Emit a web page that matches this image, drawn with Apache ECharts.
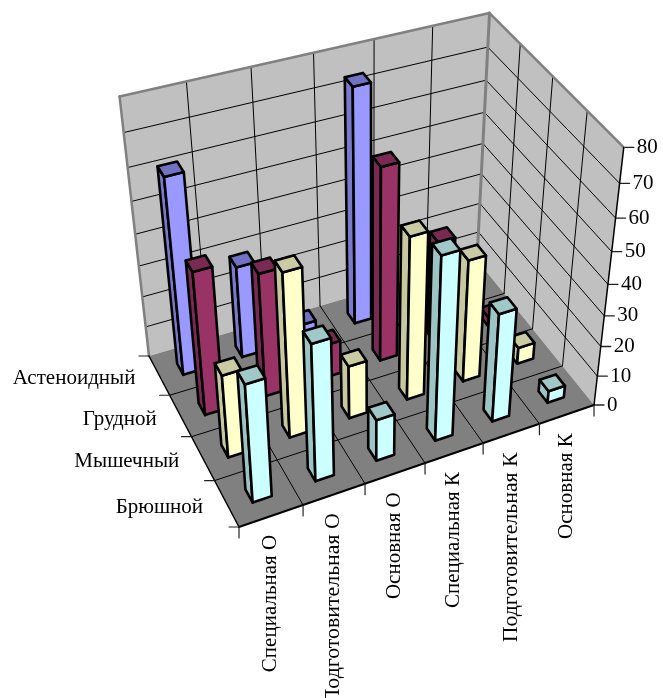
<!DOCTYPE html>
<html>
<head>
<meta charset="utf-8">
<style>html,body{margin:0;padding:0;background:#fff}#chart{width:663px;height:698px}</style>
<script src="https://cdn.jsdelivr.net/npm/echarts@6/dist/echarts.min.js"></script>
</head>
<body>
<div id="chart"></div>
<script>
// Group categories along the front edge of the floor
const categories = ['Специальная О', 'Подготовительная О', 'Основная О', 'Специальная К', 'Подготовительная К', 'Основная К'];
// Body types, listed from the back row to the front row
const rows = ['Астеноидный', 'Грудной', 'Мышечный', 'Брюшной'];
const valueTicks = [0, 10, 20, 30, 40, 50, 60, 70, 80];

const asthenic = [62.5, 30, 5, 75, 5, 2];
const thoracic = [46, 40, 11, 62, 34, 3];
const muscular = [27, 52.5, 17.5, 52.5, 40, 5.5];
const abdominal = [38, 44, 13.7, 58.7, 35.5, 4];
const rowValues = [asthenic, thoracic, muscular, abdominal];

// Face colours per row: front, side, top
const rowColors = [
  ['#9999ff', '#7a7acc', '#7272c4'],
  ['#993366', '#7a2952', '#7a2952'],
  ['#ffffcc', '#c8c8a0', '#cbcba3'],
  ['#ccffff', '#9cc4c4', '#a0c8c8']
];

const VALUE_MAX = 80;
const BAR_W = 0.30, BAR_D = 0.29;

// Box corners on screen: floor (u, v) and the three visible top corners
const floorCorners = [[239, 527], [594, 405], [477, 260], [149, 356]];
const topCorners = [[0, 1, 120, 100], [1, 1, 488, 12], [1, 0, 625, 145]];

function solve(A, b) {
  const n = b.length, m = A.map((r, i) => r.concat(b[i]));
  for (let i = 0; i < n; i++) {
    let p = i;
    for (let k = i + 1; k < n; k++) if (Math.abs(m[k][i]) > Math.abs(m[p][i])) p = k;
    [m[i], m[p]] = [m[p], m[i]];
    for (let k = 0; k < n; k++) {
      if (k === i) continue;
      const f = m[k][i] / m[i][i];
      for (let j = i; j <= n; j++) m[k][j] -= f * m[i][j];
    }
  }
  return m.map((r, i) => r[n] / r[i]);
}

// Floor homography from the unit square
function floorHomography(c) {
  const uv = [[0, 0], [1, 0], [1, 1], [0, 1]], A = [], b = [];
  uv.forEach(([u, v], i) => {
    const [x, y] = c[i];
    A.push([u, v, 1, 0, 0, 0, -u * x, -v * x]); b.push(x);
    A.push([0, 0, 0, u, v, 1, -u * y, -v * y]); b.push(y);
  });
  const h = solve(A, b);
  return [[h[0], h[1], h[2]], [h[3], h[4], h[5]], [h[6], h[7], 1]];
}
const F = floorHomography(floorCorners);
const hom = (u, v) => F.map(r => r[0] * u + r[1] * v + r[2]);

// Height column of the projection, least squares over the top corners
const heightColumn = (function () {
  const rowsA = [], rhs = [];
  topCorners.forEach(([u, v, x, y]) => {
    const [X, Y, Z] = hom(u, v);
    rowsA.push([1, 0, -x]); rhs.push(x * Z - X);
    rowsA.push([0, 1, -y]); rhs.push(y * Z - Y);
  });
  const N = [0, 1, 2].map(i => [0, 1, 2].map(j => rowsA.reduce((s, r) => s + r[i] * r[j], 0)));
  const t = [0, 1, 2].map(i => rowsA.reduce((s, r, k) => s + r[i] * rhs[k], 0));
  return solve(N, t);
})();

function project(u, v, w) {
  const [X, Y, Z] = hom(u, v);
  const d = Z + w * heightColumn[2];
  return [(X + w * heightColumn[0]) / d, (Y + w * heightColumn[1]) / d];
}

const poly = (pts, fill, stroke, lineWidth, z2) => ({
  type: 'polygon', z2: z2 || 0, silent: true,
  shape: { points: pts },
  style: { fill, stroke: stroke || null, lineWidth: lineWidth || 0, lineJoin: 'round' }
});
const seg = (a, b, stroke, lineWidth, z2) => ({
  type: 'line', z2: z2 || 0, silent: true,
  shape: { x1: a[0], y1: a[1], x2: b[0], y2: b[1] },
  style: { stroke, lineWidth, lineCap: 'round' }
});
const label = (text, x, y, align, rotation, stretch) => ({
  type: 'text', z2: 5, silent: true, x, y, rotation: rotation || 0, scaleX: stretch || 1,
  style: { text, x: 0, y: 0, fill: '#000', font: '21px "Liberation Serif"', align, verticalAlign: 'middle' }
});

// Walls, floor, grid lines, ticks and all axis labels
function renderFrame() {
  const nu = categories.length, nv = rows.length;
  const c = [];
  c.push(poly([project(0, 1, 0), project(1, 1, 0), project(1, 1, 1), project(0, 1, 1)], '#c0c0c0'));
  c.push(poly([project(1, 1, 0), project(1, 0, 0), project(1, 0, 1), project(1, 1, 1)], '#c0c0c0'));
  c.push(poly([project(0, 0, 0), project(1, 0, 0), project(1, 1, 0), project(0, 1, 0)], '#808080'));

  for (let i = 1; i < nu; i++) {
    c.push(seg(project(i / nu, 1, 0), project(i / nu, 1, 1), '#000', 1));
    c.push(seg(project(i / nu, 0, 0), project(i / nu, 1, 0), '#000', 1));
  }
  for (let j = 1; j < nv; j++) {
    c.push(seg(project(1, j / nv, 0), project(1, j / nv, 1), '#000', 1));
    c.push(seg(project(0, j / nv, 0), project(1, j / nv, 0), '#000', 1));
  }
  valueTicks.forEach(t => {
    const w = t / VALUE_MAX;
    if (t > 0 && t < VALUE_MAX) {
      c.push(seg(project(0, 1, w), project(1, 1, w), '#000', 1));
      c.push(seg(project(1, 1, w), project(1, 0, w), '#000', 1));
    }
    const p = project(1, 0, w);
    c.push(seg(p, [p[0] + 10, p[1]], '#222', 1.3));
    c.push(label(String(t), p[0] + 13, p[1], 'left'));
  });

  // Wall outlines
  const gray = '#808080';
  c.push(seg(project(0, 1, 0), project(0, 1, 1), gray, 2.5));
  c.push(seg(project(0, 1, 1), project(1, 1, 1), gray, 2.5));
  c.push(seg(project(1, 1, 0), project(1, 1, 1), gray, 3));
  c.push(seg(project(1, 1, 1), project(1, 0, 1), gray, 2.5));
  // Axis lines along the open edges
  c.push(seg(project(1, 0, 0), project(1, 0, 1), '#000', 1.5));
  c.push(seg(project(0, 0, 0), project(1, 0, 0), '#000', 2));
  c.push(seg(project(0, 0, 0), project(0, 1, 0), '#000', 1.5));

  for (let i = 0; i <= nu; i++) {
    const p = project(i / nu, 0, 0);
    c.push(seg(p, [p[0], p[1] + 11], '#222', 1.2));
  }
  rows.forEach((name, j) => {
    const v = 1 - j / nv;
    const p = project(0, v, 0);
    c.push(seg(p, [p[0] - 10, p[1]], '#222', 1.2));
    const m = project(0, v - 0.56 / nv, 0);
    c.push(label(name, m[0] - 25, m[1] + 1, 'right'));
  });
  const corner = project(0, 0, 0);
  c.push(seg(corner, [corner[0] - 10, corner[1]], '#222', 1.2));
  categories.forEach((name, i) => {
    const m = project((i + 0.5) / nu, 0, 0);
    // The two long captions run slightly wider
    const stretch = name.startsWith('Подгот') ? 1.04 : 1;
    c.push(label(name, m[0] - 0.5, m[1] + 19, 'right', Math.PI / 2, stretch));
  });
  return { type: 'group', children: c };
}

// One bar: the axes give the column centre and the height fraction
function makeBarRenderer(rowIndex) {
  return function (params, api) {
    const cs = params.coordSys;
    const cat = api.value(0), val = api.value(1);
    const u = (api.coord([cat, 0])[0] - cs.x) / cs.width;
    const w = (cs.y + cs.height - api.coord([cat, val])[1]) / cs.height;
    const v = 1 - (rowIndex + 0.5) / rows.length;
    const du = BAR_W / categories.length / 2, dv = BAR_D / rows.length / 2;
    const a = project(u - du, v - dv, 0), b = project(u + du, v - dv, 0);
    const d = project(u - du, v + dv, 0);
    const a1 = project(u - du, v - dv, w), b1 = project(u + du, v - dv, w);
    const c1 = project(u + du, v + dv, w), d1 = project(u - du, v + dv, w);
    const col = rowColors[rowIndex];
    const z2 = categories.length - cat;
    return {
      type: 'group',
      children: [
        poly([d, a, a1, d1], col[1], '#000', 2.6, z2),
        poly([a, b, b1, a1], col[0], '#000', 2.6, z2),
        poly([a1, b1, c1, d1], col[2], '#000', 2.6, z2)
      ]
    };
  };
}

const barSeries = rows.map((name, r) => ({
  type: 'custom',
  name,
  coordinateSystem: 'cartesian2d',
  clip: false,
  silent: true,
  z: 3 + r,
  renderItem: makeBarRenderer(r),
  data: rowValues[r].map((val, i) => [i, val]).reverse()
}));

const chart = echarts.init(document.getElementById('chart'), null, { renderer: 'canvas' });
chart.setOption({
  animation: false,
  backgroundColor: '#fff',
  grid: { left: 0, right: 0, top: 0, bottom: 0 },
  xAxis: { type: 'category', data: categories, show: false },
  yAxis: { type: 'value', min: 0, max: VALUE_MAX, interval: 10, show: false },
  series: [{
    type: 'custom',
    name: 'frame',
    coordinateSystem: 'none',
    silent: true,
    z: 1,
    renderItem: renderFrame,
    data: [[0]]
  }].concat(barSeries)
});
</script>
</body>
</html>
